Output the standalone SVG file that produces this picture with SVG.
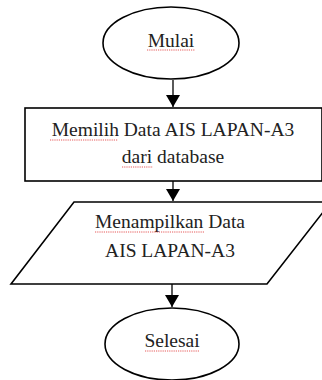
<svg xmlns="http://www.w3.org/2000/svg" width="322" height="380" viewBox="0 0 322 380">
<style>
.s{fill:#fff;stroke:#000;stroke-width:1.6}
.t{font-family:'Liberation Serif','DejaVu Serif',serif;font-size:19.5px;fill:#222;text-anchor:middle}
.c{stroke:#000;stroke-width:1.3;fill:none}
.sq{stroke:#e03030;stroke-width:0.8;fill:none;stroke-dasharray:1.2 1}
</style>
<defs>
<marker id="a" viewBox="0 0 12 14" refX="12" refY="7" markerWidth="12" markerHeight="14" markerUnits="userSpaceOnUse" orient="auto">
<path d="M0,0L12,7L0,14Z" fill="#000"/>
</marker>
</defs>
<rect width="322" height="380" fill="#fff"/>
<g id="connectors">
<line class="c" x1="173" y1="80" x2="173" y2="107" marker-end="url(#a)"/>
<line class="c" x1="173" y1="181" x2="173" y2="201" marker-end="url(#a)"/>
<line class="c" x1="172" y1="284" x2="172" y2="307" marker-end="url(#a)"/>
</g>
<g id="mulai">
<ellipse class="s" cx="171" cy="43" rx="68" ry="36"/>
<text class="t" x="171" y="47">Mulai</text>
<path class="sq" d="M147,50H195"/>
</g>
<g id="memilih">
<rect class="s" x="25" y="108" width="297" height="73"/>
<text class="t" x="173" y="136">Memilih Data AIS LAPAN-A3</text>
<text class="t" x="173" y="163">dari database</text>
<path class="sq" d="M50,140H118M122,167H153"/>
</g>
<g id="menampilkan">
<polygon class="s" points="74,202 331,202 267,284 11,284"/>
<text class="t" x="170" y="228">Menampilkan Data</text>
<text class="t" x="170" y="257">AIS LAPAN-A3</text>
<path class="sq" d="M95,232H204"/>
</g>
<g id="selesai">
<ellipse class="s" cx="172" cy="344" rx="67" ry="36"/>
<text class="t" x="172" y="347">Selesai</text>
<path class="sq" d="M145,351H200"/>
</g>
</svg>
